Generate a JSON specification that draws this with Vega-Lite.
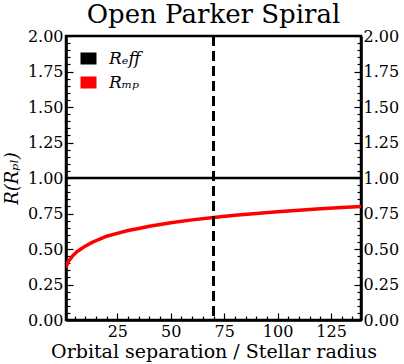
{
  "$schema": "https://vega.github.io/schema/vega-lite/v6.json",
  "autosize": {"type": "none"},
  "padding": {"left": 66, "top": 36, "right": 43, "bottom": 44},
  "width": 295,
  "height": 284,
  "title": {"text": "Open Parker Spiral", "font": "DejaVu Serif", "fontSize": 26, "fontWeight": "normal", "color": "black", "offset": 0},
  "config": {
    "view": {"stroke": "black", "strokeWidth": 2.5},
    "axis": {"labelFont": "DejaVu Serif", "labelFontSize": 16, "labelColor": "black", "titleFont": "DejaVu Serif", "titleColor": "black", "titleFontWeight": "normal", "domainColor": "black", "domainWidth": 2.5, "tickColor": "black", "tickWidth": 1.2, "grid": false, "labelFlush": false, "labelOverlap": false}
  },
  "datasets": {
    "curves": [
      {"sep": 1, "R": 1.0, "series": "R_eff"},
      {"sep": 139, "R": 1.0, "series": "R_eff"},
      {"sep": 1, "R": 0.37, "series": "R_mp"},
      {"sep": 1.5, "R": 0.39, "series": "R_mp"},
      {"sep": 2, "R": 0.41, "series": "R_mp"},
      {"sep": 3, "R": 0.43, "series": "R_mp"},
      {"sep": 4, "R": 0.45, "series": "R_mp"},
      {"sep": 5, "R": 0.465, "series": "R_mp"},
      {"sep": 6, "R": 0.48, "series": "R_mp"},
      {"sep": 8, "R": 0.50, "series": "R_mp"},
      {"sep": 10, "R": 0.52, "series": "R_mp"},
      {"sep": 13, "R": 0.545, "series": "R_mp"},
      {"sep": 16, "R": 0.565, "series": "R_mp"},
      {"sep": 20, "R": 0.59, "series": "R_mp"},
      {"sep": 25, "R": 0.61, "series": "R_mp"},
      {"sep": 30, "R": 0.63, "series": "R_mp"},
      {"sep": 35, "R": 0.645, "series": "R_mp"},
      {"sep": 40, "R": 0.66, "series": "R_mp"},
      {"sep": 50, "R": 0.685, "series": "R_mp"},
      {"sep": 60, "R": 0.705, "series": "R_mp"},
      {"sep": 70, "R": 0.722, "series": "R_mp"},
      {"sep": 80, "R": 0.737, "series": "R_mp"},
      {"sep": 90, "R": 0.75, "series": "R_mp"},
      {"sep": 100, "R": 0.762, "series": "R_mp"},
      {"sep": 110, "R": 0.773, "series": "R_mp"},
      {"sep": 120, "R": 0.783, "series": "R_mp"},
      {"sep": 130, "R": 0.792, "series": "R_mp"},
      {"sep": 139, "R": 0.80, "series": "R_mp"}
    ],
    "marker": [{"sep": 70}]
  },
  "encoding": {
    "x": {"field": "sep", "type": "quantitative", "scale": {"domain": [1, 139], "nice": false, "zero": false},
      "axis": {"orient": "bottom", "title": "Orbital separation / Stellar radius", "titleFontSize": 19, "titlePadding": 0,
        "values": [5,10,15,20,25,30,35,40,45,50,55,60,65,70,75,80,85,90,95,100,105,110,115,120,125,130,135],
        "labelExpr": "datum.value % 25 === 0 ? datum.label : ''",
        "labelOverlap": false,
        "tickSize": {"condition": {"test": "datum.value % 25 === 0", "value": -7}, "value": -4},
        "labelPadding": 10}}
  },
  "layer": [
    {
      "data": {"name": "curves"},
      "transform": [{"filter": "datum.series === 'R_mp'"}],
      "mark": {"type": "line", "strokeWidth": 3.5, "clip": true},
      "encoding": {
        "y": {"field": "R", "type": "quantitative", "scale": {"domain": [0, 2], "nice": false},
          "axis": {"orient": "left", "title": "R(Rₚₗ)", "titleFontSize": 18, "titleFontStyle": "italic", "titlePadding": 6,
            "values": [0,0.05,0.1,0.15,0.2,0.25,0.3,0.35,0.4,0.45,0.5,0.55,0.6,0.65,0.7,0.75,0.8,0.85,0.9,0.95,1,1.05,1.1,1.15,1.2,1.25,1.3,1.35,1.4,1.45,1.5,1.55,1.6,1.65,1.7,1.75,1.8,1.85,1.9,1.95,2],
            "format": ".2f",
            "labelOverlap": false,
            "labelExpr": "abs(datum.value*4 - round(datum.value*4)) < 0.001 ? datum.label : ''",
            "tickSize": {"condition": {"test": "abs(datum.value*4 - round(datum.value*4)) < 0.001", "value": -7}, "value": -4},
            "labelPadding": 10}},
        "color": {"field": "series", "type": "nominal",
          "scale": {"domain": ["R_eff", "R_mp"], "range": ["black", "red"]},
          "legend": {"orient": "none", "legendX": 14, "legendY": 14, "title": null,
            "symbolType": "M-1,-0.75H1V0.75H-1Z", "symbolSize": 256, "symbolStrokeWidth": 0,
            "labelFont": "DejaVu Serif", "labelFontStyle": "italic", "labelFontSize": 17, "labelColor": "black",
            "labelOffset": 12, "rowPadding": 6,
            "labelExpr": "datum.label === 'R_eff' ? 'Rₑff' : 'Rₘₚ'",
            "encode": {"symbols": {"update": {"fill": {"scale": "color", "field": "value"}, "strokeWidth": {"value": 0}, "opacity": {"value": 1}}}}}}
      }
    },
    {
      "data": {"name": "curves"},
      "transform": [{"filter": "datum.series === 'R_eff'"}],
      "mark": {"type": "line", "strokeWidth": 2.5, "clip": true},
      "encoding": {
        "y": {"field": "R", "type": "quantitative",
          "axis": {"orient": "right", "title": null,
            "values": [0,0.05,0.1,0.15,0.2,0.25,0.3,0.35,0.4,0.45,0.5,0.55,0.6,0.65,0.7,0.75,0.8,0.85,0.9,0.95,1,1.05,1.1,1.15,1.2,1.25,1.3,1.35,1.4,1.45,1.5,1.55,1.6,1.65,1.7,1.75,1.8,1.85,1.9,1.95,2],
            "format": ".2f",
            "labelOverlap": false,
            "labelExpr": "abs(datum.value*4 - round(datum.value*4)) < 0.001 ? datum.label : ''",
            "tickSize": {"condition": {"test": "abs(datum.value*4 - round(datum.value*4)) < 0.001", "value": -7}, "value": -4},
            "labelPadding": 9}},
        "color": {"field": "series", "type": "nominal"}
      }
    },
    {
      "data": {"name": "marker"},
      "mark": {"type": "rule", "color": "black", "strokeWidth": 3, "strokeDash": [10, 5]},
      "encoding": {}
    }
  ],
  "resolve": {"axis": {"y": "independent"}}
}
